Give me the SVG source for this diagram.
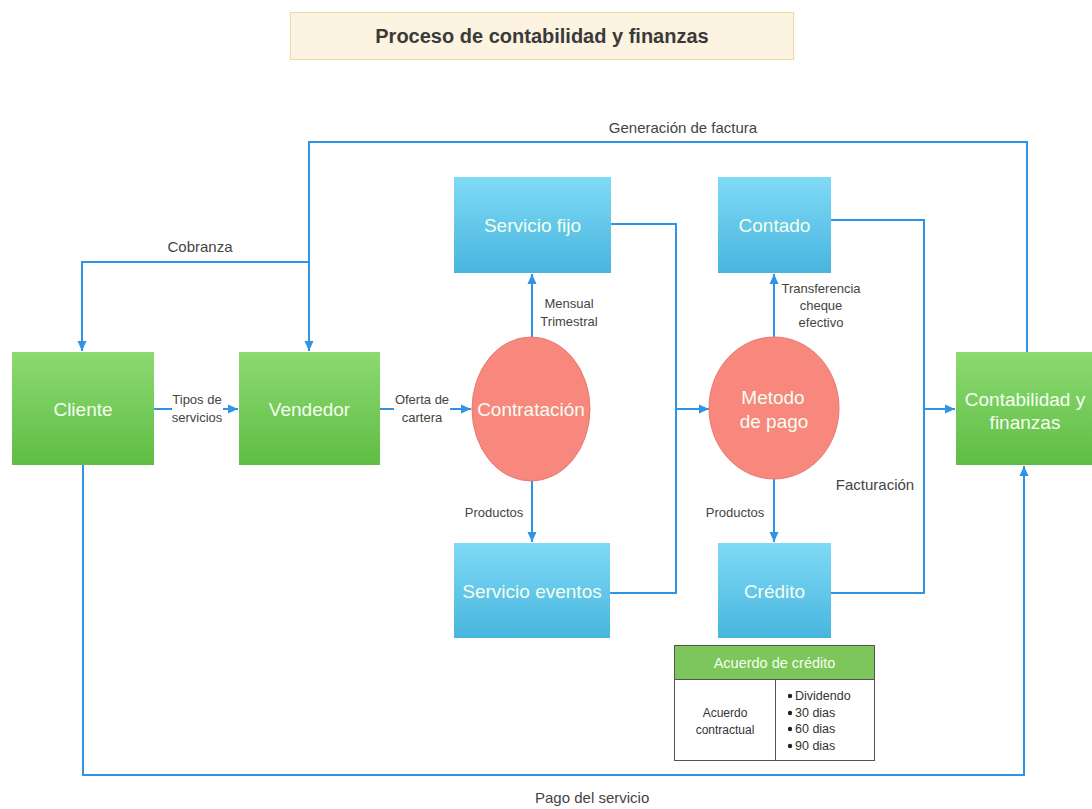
<svg xmlns="http://www.w3.org/2000/svg" width="1092" height="809" viewBox="0 0 1092 809">
  <defs>
    <linearGradient id="gGreen" x1="0" y1="0" x2="0" y2="1">
      <stop offset="0" stop-color="#8cda72"/>
      <stop offset="1" stop-color="#5fbd44"/>
    </linearGradient>
    <linearGradient id="gBlue" x1="0" y1="0" x2="0" y2="1">
      <stop offset="0" stop-color="#80daf6"/>
      <stop offset="1" stop-color="#48b5de"/>
    </linearGradient>
    <marker id="arrow" viewBox="0 0 10 10" refX="10" refY="5" markerWidth="10" markerHeight="10" markerUnits="userSpaceOnUse" orient="auto">
      <path d="M0,0.5 L10,5 L0,9.5 Z" fill="#2f93e6"/>
    </marker>
    <style>
      .lbl { font-family: "Liberation Sans", Arial, sans-serif; fill: #444; }
      .big { font-size: 15px; }
      .sm { font-size: 13px; text-anchor: middle; }
      .box-g { fill: url(#gGreen); }
      .box-b { fill: url(#gBlue); }
      .node-txt { font-family: "Liberation Sans", Arial, sans-serif; font-size: 19px; fill: #f4fff0; text-anchor: middle; }
      .circ { fill: #f8877d; stroke: #e57b71; stroke-width: 1; }
      .conn { fill: none; stroke: #2f93e6; stroke-width: 2; }
      .tbl { font-family: "Liberation Sans", Arial, sans-serif; fill: #333; }
    </style>
  </defs>

  <rect width="1092" height="809" fill="#ffffff"/>

  <!-- title -->
  <g id="title">
    <rect x="290.5" y="12.5" width="503" height="47" fill="#fdf3e1" stroke="#efd9a2" stroke-width="1"/>
    <text x="542" y="43" font-family="Liberation Sans, Arial, sans-serif" font-size="20" font-weight="bold" fill="#3a3a3a" text-anchor="middle">Proceso de contabilidad y finanzas</text>
  </g>

  <!-- connectors -->
  <g id="connectors">
    <!-- invoice generation: accounting back to seller -->
    <path class="conn" d="M1027,352 V142 H309 V351" marker-end="url(#arrow)"/>
    <!-- collection: seller to client -->
    <path class="conn" d="M309,262 H82 V351" marker-end="url(#arrow)"/>
    <!-- service payment: client to accounting -->
    <path class="conn" d="M83,465 V775 H1024 V466" marker-end="url(#arrow)"/>
    <!-- client -> seller -->
    <path class="conn" d="M154,409 H238" marker-end="url(#arrow)"/>
    <!-- seller -> contracting -->
    <path class="conn" d="M380,409 H471" marker-end="url(#arrow)"/>
    <!-- contracting -> fixed / events -->
    <path class="conn" d="M532,337 V274" marker-end="url(#arrow)"/>
    <path class="conn" d="M532,481 V542" marker-end="url(#arrow)"/>
    <!-- services merge -> payment method -->
    <path class="conn" d="M611,224 H676 V593 H610"/>
    <path class="conn" d="M676,409 H709" marker-end="url(#arrow)"/>
    <!-- payment method -> cash / credit -->
    <path class="conn" d="M774,337 V274" marker-end="url(#arrow)"/>
    <path class="conn" d="M774,479 V542" marker-end="url(#arrow)"/>
    <!-- cash / credit merge -> accounting -->
    <path class="conn" d="M831,220 H924 V593 H831"/>
    <path class="conn" d="M924,409 H955" marker-end="url(#arrow)"/>
  </g>

  <!-- connector labels -->
  <g id="labels">
    <text class="lbl big" x="683" y="133" text-anchor="middle">Generación de factura</text>
    <text class="lbl big" x="200" y="252" text-anchor="middle">Cobranza</text>
    <text class="lbl big" x="535" y="803">Pago del servicio</text>
    <rect x="172" y="392" width="51" height="34" fill="#ffffff"/>
    <text class="lbl sm" x="197" y="404">Tipos de</text>
    <text class="lbl sm" x="197" y="422">servicios</text>
    <rect x="394" y="392" width="56" height="34" fill="#ffffff"/>
    <text class="lbl sm" x="422" y="404">Oferta de</text>
    <text class="lbl sm" x="422" y="422">cartera</text>
    <text class="lbl sm" x="569" y="308">Mensual</text>
    <text class="lbl sm" x="569" y="326">Trimestral</text>
    <text class="lbl sm" x="821" y="293">Transferencia</text>
    <text class="lbl sm" x="821" y="310">cheque</text>
    <text class="lbl sm" x="821" y="327">efectivo</text>
    <text class="lbl sm" x="494" y="517">Productos</text>
    <text class="lbl sm" x="735" y="517">Productos</text>
    <text class="lbl big" x="875" y="490" text-anchor="middle">Facturación</text>
  </g>

  <!-- nodes -->
  <g id="cliente">
    <rect class="box-g" x="12" y="352" width="142" height="113"/>
    <text class="node-txt" x="83" y="416">Cliente</text>
  </g>
  <g id="vendedor">
    <rect class="box-g" x="239" y="352" width="141" height="113"/>
    <text class="node-txt" x="309.5" y="416">Vendedor</text>
  </g>
  <g id="contratacion">
    <ellipse class="circ" cx="531" cy="409" rx="59" ry="72"/>
    <text class="node-txt" x="531" y="416">Contratación</text>
  </g>
  <g id="servicio-fijo">
    <rect class="box-b" x="454" y="177" width="157" height="96"/>
    <text class="node-txt" x="532.5" y="232">Servicio fijo</text>
  </g>
  <g id="servicio-eventos">
    <rect class="box-b" x="454" y="543" width="156" height="95"/>
    <text class="node-txt" x="532" y="598">Servicio eventos</text>
  </g>
  <g id="metodo-pago">
    <ellipse class="circ" cx="774" cy="408" rx="65" ry="71"/>
    <text class="node-txt" x="773" y="404">Metodo</text>
    <text class="node-txt" x="774" y="428">de pago</text>
  </g>
  <g id="contado">
    <rect class="box-b" x="718" y="177" width="113" height="96"/>
    <text class="node-txt" x="774.5" y="232">Contado</text>
  </g>
  <g id="credito">
    <rect class="box-b" x="718" y="543" width="113" height="95"/>
    <text class="node-txt" x="774.5" y="598">Crédito</text>
  </g>
  <g id="contabilidad">
    <rect class="box-g" x="956" y="352" width="141" height="113"/>
    <text class="node-txt" x="1025" y="406">Contabilidad y</text>
    <text class="node-txt" x="1025" y="429">finanzas</text>
  </g>

  <!-- credit agreement table -->
  <g id="acuerdo-credito">
    <rect x="674.5" y="645.5" width="200" height="115" fill="#ffffff" stroke="#555" stroke-width="1"/>
    <rect x="674.5" y="645.5" width="200" height="34" fill="#7cc65b" stroke="#555" stroke-width="1"/>
    <line x1="775.5" y1="679.5" x2="775.5" y2="760.5" stroke="#555" stroke-width="1"/>
    <text class="tbl" x="774.5" y="668" font-size="14.5" fill="#f4fff0" style="fill:#f4fff0" text-anchor="middle">Acuerdo de crédito</text>
    <text class="tbl" x="725" y="717" font-size="12" text-anchor="middle">Acuerdo</text>
    <text class="tbl" x="725" y="734" font-size="12" text-anchor="middle">contractual</text>
    <g font-size="12.5">
      <circle cx="790" cy="696" r="2.2" fill="#222"/>
      <text class="tbl" x="795" y="700">Dividendo</text>
      <circle cx="790" cy="713" r="2.2" fill="#222"/>
      <text class="tbl" x="795" y="717">30 dias</text>
      <circle cx="790" cy="729" r="2.2" fill="#222"/>
      <text class="tbl" x="795" y="733">60 dias</text>
      <circle cx="790" cy="746" r="2.2" fill="#222"/>
      <text class="tbl" x="795" y="750">90 dias</text>
    </g>
  </g>
</svg>
